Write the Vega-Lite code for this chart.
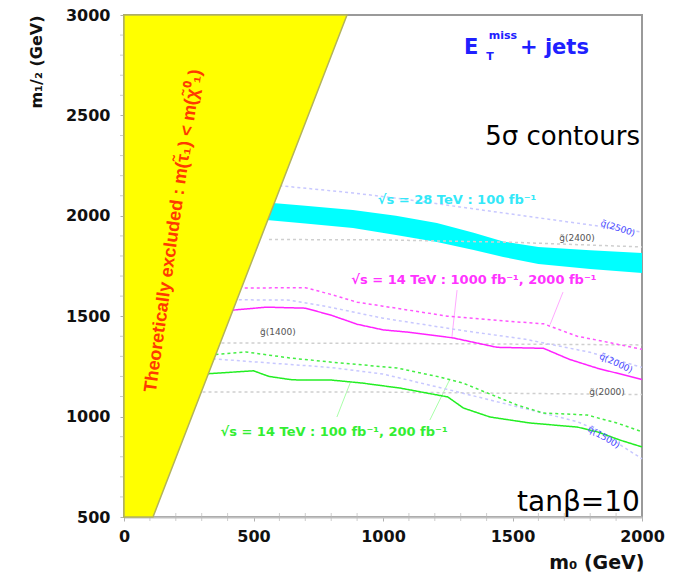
{
  "$schema": "https://vega.github.io/schema/vega-lite/v6.json",
  "width": 518,
  "height": 502,
  "autosize": {"type": "none"},
  "padding": {"left": 124, "top": 15, "right": 31, "bottom": 57},
  "background": "white",
  "config": {
    "view": {"stroke": "#9a9a9a", "strokeWidth": 2},
    "font": "DejaVu Sans"
  },
  "resolve": {"scale": {"color": "independent"}},
  "datasets": {
    "excl": [{"m12": 500, "m0": 112}, {"m12": 3000, "m0": 861}],
    "xminor": [{"m0": 100}, {"m0": 200}, {"m0": 300}, {"m0": 400}, {"m0": 600}, {"m0": 700}, {"m0": 800}, {"m0": 900}, {"m0": 1100}, {"m0": 1200}, {"m0": 1300}, {"m0": 1400}, {"m0": 1600}, {"m0": 1700}, {"m0": 1800}, {"m0": 1900}],
    "yminor": [{"m12": 600}, {"m12": 700}, {"m12": 800}, {"m12": 900}, {"m12": 1100}, {"m12": 1200}, {"m12": 1300}, {"m12": 1400}, {"m12": 1600}, {"m12": 1700}, {"m12": 1800}, {"m12": 1900}, {"m12": 2100}, {"m12": 2200}, {"m12": 2300}, {"m12": 2400}, {"m12": 2600}, {"m12": 2700}, {"m12": 2800}, {"m12": 2900}],
    "band": [
      {"m0": 540, "m12": 2068, "lo": 1980},
      {"m0": 700, "m12": 2050, "lo": 1962},
      {"m0": 884, "m12": 2029, "lo": 1939},
      {"m0": 1050, "m12": 2000, "lo": 1905},
      {"m0": 1208, "m12": 1964, "lo": 1870},
      {"m0": 1350, "m12": 1915, "lo": 1830},
      {"m0": 1464, "m12": 1872, "lo": 1795},
      {"m0": 1600, "m12": 1845, "lo": 1760},
      {"m0": 1800, "m12": 1828, "lo": 1735},
      {"m0": 2000, "m12": 1815, "lo": 1715}
    ],
    "curves": [
      {"series": "g2400", "m0": 560, "m12": 1882},
      {"series": "g2400", "m0": 1000, "m12": 1880},
      {"series": "g2400", "m0": 1500, "m12": 1868},
      {"series": "g2400", "m0": 2000, "m12": 1845},
      {"series": "g1400", "m0": 330, "m12": 1367},
      {"series": "g1400", "m0": 1000, "m12": 1365},
      {"series": "g1400", "m0": 2000, "m12": 1357},
      {"series": "g2000", "m0": 280, "m12": 1123},
      {"series": "g2000", "m0": 1000, "m12": 1122},
      {"series": "g2000", "m0": 2000, "m12": 1110},
      {"series": "q1", "m0": 600, "m12": 2150},
      {"series": "q1", "m0": 884, "m12": 2114},
      {"series": "q1", "m0": 1100, "m12": 2080},
      {"series": "q1", "m0": 1297, "m12": 2044},
      {"series": "q1", "m0": 1656, "m12": 1980},
      {"series": "q1", "m0": 2000, "m12": 1919},
      {"series": "q2", "m0": 420, "m12": 1582},
      {"series": "q2", "m0": 640, "m12": 1580},
      {"series": "q2", "m0": 795, "m12": 1545},
      {"series": "q2", "m0": 1000, "m12": 1490},
      {"series": "q2", "m0": 1300, "m12": 1430},
      {"series": "q2", "m0": 1550, "m12": 1385},
      {"series": "q2", "m0": 1800, "m12": 1320},
      {"series": "q2", "m0": 2000, "m12": 1245},
      {"series": "q3", "m0": 320, "m12": 1290},
      {"series": "q3", "m0": 795, "m12": 1245},
      {"series": "q3", "m0": 1000, "m12": 1212},
      {"series": "q3", "m0": 1250, "m12": 1135},
      {"series": "q3", "m0": 1500, "m12": 1055},
      {"series": "q3", "m0": 1750, "m12": 975},
      {"series": "q3", "m0": 1830, "m12": 930},
      {"series": "q3", "m0": 2000, "m12": 790},
      {"series": "s2000", "m0": 420, "m12": 1640},
      {"series": "s2000", "m0": 700, "m12": 1642},
      {"series": "s2000", "m0": 795, "m12": 1610},
      {"series": "s2000", "m0": 900, "m12": 1570},
      {"series": "s2000", "m0": 1000, "m12": 1550},
      {"series": "s2000", "m0": 1250, "m12": 1500},
      {"series": "s2000", "m0": 1450, "m12": 1478},
      {"series": "s2000", "m0": 1620, "m12": 1462},
      {"series": "s2000", "m0": 1750, "m12": 1400},
      {"series": "s2000", "m0": 1850, "m12": 1375},
      {"series": "s2000", "m0": 2000, "m12": 1335},
      {"series": "s1000", "m0": 400, "m12": 1528},
      {"series": "s1000", "m0": 550, "m12": 1545},
      {"series": "s1000", "m0": 700, "m12": 1540},
      {"series": "s1000", "m0": 800, "m12": 1505},
      {"series": "s1000", "m0": 900, "m12": 1460},
      {"series": "s1000", "m0": 1000, "m12": 1432},
      {"series": "s1000", "m0": 1100, "m12": 1420},
      {"series": "s1000", "m0": 1270, "m12": 1392},
      {"series": "s1000", "m0": 1440, "m12": 1345},
      {"series": "s1000", "m0": 1620, "m12": 1340},
      {"series": "s1000", "m0": 1720, "m12": 1285},
      {"series": "s1000", "m0": 1830, "m12": 1240},
      {"series": "s1000", "m0": 2000, "m12": 1185},
      {"series": "s200", "m0": 330, "m12": 1307},
      {"series": "s200", "m0": 470, "m12": 1322},
      {"series": "s200", "m0": 640, "m12": 1292},
      {"series": "s200", "m0": 795, "m12": 1272},
      {"series": "s200", "m0": 1054, "m12": 1242},
      {"series": "s200", "m0": 1220, "m12": 1197},
      {"series": "s200", "m0": 1309, "m12": 1167},
      {"series": "s200", "m0": 1375, "m12": 1132},
      {"series": "s200", "m0": 1517, "m12": 1058},
      {"series": "s200", "m0": 1618, "m12": 1018},
      {"series": "s200", "m0": 1788, "m12": 1008},
      {"series": "s200", "m0": 1903, "m12": 968},
      {"series": "s200", "m0": 2000, "m12": 925},
      {"series": "s100", "m0": 305, "m12": 1212},
      {"series": "s100", "m0": 500, "m12": 1228},
      {"series": "s100", "m0": 560, "m12": 1200},
      {"series": "s100", "m0": 650, "m12": 1183},
      {"series": "s100", "m0": 800, "m12": 1182},
      {"series": "s100", "m0": 920, "m12": 1167},
      {"series": "s100", "m0": 1066, "m12": 1142},
      {"series": "s100", "m0": 1250, "m12": 1098},
      {"series": "s100", "m0": 1310, "m12": 1043},
      {"series": "s100", "m0": 1413, "m12": 998},
      {"series": "s100", "m0": 1568, "m12": 968},
      {"series": "s100", "m0": 1750, "m12": 948},
      {"series": "s100", "m0": 1830, "m12": 923},
      {"series": "s100", "m0": 1915, "m12": 883},
      {"series": "s100", "m0": 2000, "m12": 849}
    ],
    "leaders": [
      {"group": "magenta", "m0": 1286, "m12": 1630, "m0b": 1266, "m12b": 1395},
      {"group": "magenta", "m0": 1695, "m12": 1620, "m0b": 1645, "m12b": 1458},
      {"group": "green", "m0": 822, "m12": 998, "m0b": 873, "m12b": 1167},
      {"group": "green", "m0": 1181, "m12": 983, "m0b": 1259, "m12b": 1188}
    ],
    "graylabels": [
      {"label": "g̃(2400)", "m0": 1749, "m12": 1889},
      {"label": "g̃(1400)", "m0": 594, "m12": 1421},
      {"label": "g̃(2000)", "m0": 1865, "m12": 1123}
    ],
    "bluelabels": [
      {"label": "q̃(2500)", "m0": 1907, "m12": 1939, "tilt": 18},
      {"label": "q̃(2000)", "m0": 1900, "m12": 1267, "tilt": 25},
      {"label": "q̃(1500)", "m0": 1853, "m12": 898, "tilt": 30}
    ]
  },
  "layer": [
    {
      "data": {"name": "band"},
      "mark": {"type": "area", "color": "#00ffff", "opacity": 1},
      "encoding": {
        "x": {
          "field": "m0", "type": "quantitative",
          "scale": {"domain": [0, 2000], "nice": false, "zero": false},
          "axis": {
            "title": "m₀  (GeV)",
            "values": [0, 500, 1000, 1500, 2000],
            "format": "d",
            "grid": false,
            "domainColor": "#c0c0c0", "domainWidth": 2,
            "tickColor": "#b0b0b0", "tickSize": 4,
            "labelFont": "DejaVu Sans", "labelFontWeight": "bold", "labelFontSize": 16, "labelColor": "#111",
            "labelPadding": 7, "labelFlush": false, "labelOverlap": false, "labelBound": false,
            "titleFont": "DejaVu Sans", "titleFontWeight": "bold", "titleFontSize": 19, "titleColor": "#111",
            "titleAlign": "right", "titleAnchor": "end", "titleX": 520, "titleY": 45, "titleBaseline": "middle"
          }
        },
        "y": {
          "field": "m12", "type": "quantitative",
          "scale": {"domain": [500, 3000], "nice": false, "zero": false},
          "axis": {
            "title": "m₁/₂ (GeV)",
            "values": [500, 1000, 1500, 2000, 2500, 3000],
            "format": "d",
            "grid": false,
            "domainColor": "#b4b47a", "domainWidth": 2,
            "tickColor": "#b0b0b0", "tickSize": 4,
            "labelFont": "DejaVu Sans", "labelFontWeight": "bold", "labelFontSize": 16, "labelColor": "#111",
            "labelPadding": 10, "labelOverlap": false, "labelBound": false, "labelFlush": false,
            "titleFont": "DejaVu Sans", "titleFontWeight": "bold", "titleFontSize": 16, "titleColor": "#111",
            "titleAngle": -90, "titleAlign": "right", "titleAnchor": "end", "titleX": -88, "titleY": 0, "titleBaseline": "middle"
          }
        },
        "y2": {"field": "lo"}
      }
    },
    {
      "data": {"name": "xminor"},
      "mark": {"type": "tick", "orient": "vertical", "size": 8, "thickness": 1, "color": "#b8b8b8", "clip": false},
      "encoding": {
        "x": {"field": "m0", "type": "quantitative"},
        "y": {"datum": 500, "type": "quantitative"}
      }
    },
    {
      "data": {"name": "yminor"},
      "mark": {"type": "tick", "orient": "horizontal", "size": 8, "thickness": 1, "color": "#b8b8b8", "clip": false},
      "encoding": {
        "y": {"field": "m12", "type": "quantitative"},
        "x": {"datum": 0, "type": "quantitative"}
      }
    },
    {
      "data": {"name": "leaders"},
      "mark": {"type": "rule", "strokeWidth": 1},
      "encoding": {
        "x": {"field": "m0", "type": "quantitative"},
        "y": {"field": "m12", "type": "quantitative"},
        "x2": {"field": "m0b"},
        "y2": {"field": "m12b"},
        "color": {"field": "group", "type": "nominal", "scale": {"domain": ["magenta", "green"], "range": ["#ffaaff", "#aaffaa"]}, "legend": null}
      }
    },
    {
      "data": {"name": "curves"},
      "mark": {"type": "line", "interpolate": "linear"},
      "encoding": {
        "x": {"field": "m0", "type": "quantitative"},
        "y": {"field": "m12", "type": "quantitative"},
        "detail": {"field": "series", "type": "nominal"},
        "color": {
          "field": "series", "type": "nominal", "legend": null,
          "scale": {
            "domain": ["g2400", "g1400", "g2000", "q1", "q2", "q3", "s2000", "s1000", "s200", "s100"],
            "range": ["#cfcfcf", "#cfcfcf", "#cfcfcf", "#c8c8ff", "#c8c8ff", "#c8c8ff", "#ff55ff", "#ff22ff", "#44ee44", "#22ee22"]
          }
        },
        "strokeDash": {
          "field": "series", "type": "nominal", "legend": null,
          "scale": {
            "domain": ["g2400", "g1400", "g2000", "q1", "q2", "q3", "s2000", "s1000", "s200", "s100"],
            "range": [[3, 3], [3, 3], [3, 3], [3, 3], [3, 3], [3, 3], [3, 3], [1, 0], [3, 3], [1, 0]]
          }
        },
        "strokeWidth": {
          "field": "series", "type": "nominal", "legend": null,
          "scale": {
            "domain": ["g2400", "g1400", "g2000", "q1", "q2", "q3", "s2000", "s1000", "s200", "s100"],
            "range": [1.5, 1.5, 1.5, 1.5, 1.5, 1.5, 2.5, 3, 2.5, 3]
          }
        }
      }
    },
    {
      "data": {"name": "excl"},
      "mark": {"type": "area", "orient": "horizontal", "color": "#ffff00", "stroke": "#b4b45a", "strokeWidth": 1.5, "opacity": 1},
      "encoding": {
        "y": {"field": "m12", "type": "quantitative"},
        "x": {"field": "m0", "type": "quantitative"},
        "x2": {"datum": 0}
      }
    },
    {
      "data": {"values": [{"label": "Theoretically excluded  :  m(τ̃₁) < m(χ̃⁰₁)", "m0": 191, "m12": 1925}]},
      "mark": {"type": "text", "angle": -82, "font": "Liberation Sans", "fontWeight": "bold", "fontSize": 18, "color": "#ff3a00", "align": "center", "baseline": "middle"},
      "encoding": {
        "x": {"field": "m0", "type": "quantitative"},
        "y": {"field": "m12", "type": "quantitative"},
        "text": {"field": "label"}
      }
    },
    {
      "data": {"values": [{"label": "√s = 28 TeV : 100 fb⁻¹", "m0": 1286, "m12": 2079}]},
      "mark": {"type": "text", "font": "DejaVu Sans", "fontWeight": "bold", "fontSize": 13, "color": "#33e8f8", "align": "center", "baseline": "middle"},
      "encoding": {
        "x": {"field": "m0", "type": "quantitative"},
        "y": {"field": "m12", "type": "quantitative"},
        "text": {"field": "label"}
      }
    },
    {
      "data": {"values": [{"label": "√s = 14 TeV : 1000 fb⁻¹,  2000 fb⁻¹", "m0": 1351, "m12": 1680}]},
      "mark": {"type": "text", "font": "DejaVu Sans", "fontWeight": "bold", "fontSize": 13, "color": "#ff33ff", "align": "center", "baseline": "middle"},
      "encoding": {
        "x": {"field": "m0", "type": "quantitative"},
        "y": {"field": "m12", "type": "quantitative"},
        "text": {"field": "label"}
      }
    },
    {
      "data": {"values": [{"label": "√s = 14 TeV : 100 fb⁻¹,  200 fb⁻¹", "m0": 811, "m12": 923}]},
      "mark": {"type": "text", "font": "DejaVu Sans", "fontWeight": "bold", "fontSize": 13, "color": "#33ee33", "align": "center", "baseline": "middle"},
      "encoding": {
        "x": {"field": "m0", "type": "quantitative"},
        "y": {"field": "m12", "type": "quantitative"},
        "text": {"field": "label"}
      }
    },
    {
      "data": {"name": "graylabels"},
      "mark": {"type": "text", "font": "DejaVu Sans", "fontSize": 9, "color": "#555555", "align": "center", "baseline": "middle"},
      "encoding": {
        "x": {"field": "m0", "type": "quantitative"},
        "y": {"field": "m12", "type": "quantitative"},
        "text": {"field": "label"}
      }
    },
    {
      "data": {"name": "bluelabels"},
      "mark": {"type": "text", "font": "DejaVu Sans", "fontSize": 9, "color": "#4848ff", "align": "center", "baseline": "middle"},
      "encoding": {
        "x": {"field": "m0", "type": "quantitative"},
        "y": {"field": "m12", "type": "quantitative"},
        "angle": {"field": "tilt", "type": "quantitative", "scale": null},
        "text": {"field": "label"}
      }
    },
    {
      "data": {"values": [{"label": "E", "m0": 1340, "m12": 2836}]},
      "mark": {"type": "text", "font": "DejaVu Sans", "fontWeight": "bold", "fontSize": 21, "color": "#2020ff", "align": "center", "baseline": "middle"},
      "encoding": {
        "x": {"field": "m0", "type": "quantitative"},
        "y": {"field": "m12", "type": "quantitative"},
        "text": {"field": "label"}
      }
    },
    {
      "data": {"values": [{"label": "miss", "m0": 1463, "m12": 2895}, {"label": "T", "m0": 1413, "m12": 2791}]},
      "mark": {"type": "text", "font": "DejaVu Sans", "fontWeight": "bold", "fontSize": 11, "color": "#2020ff", "align": "center", "baseline": "middle"},
      "encoding": {
        "x": {"field": "m0", "type": "quantitative"},
        "y": {"field": "m12", "type": "quantitative"},
        "text": {"field": "label"}
      }
    },
    {
      "data": {"values": [{"label": "+  jets", "m0": 1529, "m12": 2836}]},
      "mark": {"type": "text", "font": "DejaVu Sans", "fontWeight": "bold", "fontSize": 21, "color": "#2020ff", "align": "left", "baseline": "middle"},
      "encoding": {
        "x": {"field": "m0", "type": "quantitative"},
        "y": {"field": "m12", "type": "quantitative"},
        "text": {"field": "label"}
      }
    },
    {
      "data": {"values": [{"label": "5σ contours", "m0": 1992, "m12": 2392}]},
      "mark": {"type": "text", "font": "DejaVu Sans", "fontSize": 26, "color": "#000000", "align": "right", "baseline": "middle"},
      "encoding": {
        "x": {"field": "m0", "type": "quantitative"},
        "y": {"field": "m12", "type": "quantitative"},
        "text": {"field": "label"}
      }
    },
    {
      "data": {"values": [{"label": "tanβ=10", "m0": 1992, "m12": 572}]},
      "mark": {"type": "text", "font": "DejaVu Sans", "fontSize": 28, "color": "#000000", "align": "right", "baseline": "middle"},
      "encoding": {
        "x": {"field": "m0", "type": "quantitative"},
        "y": {"field": "m12", "type": "quantitative"},
        "text": {"field": "label"}
      }
    }
  ]
}
